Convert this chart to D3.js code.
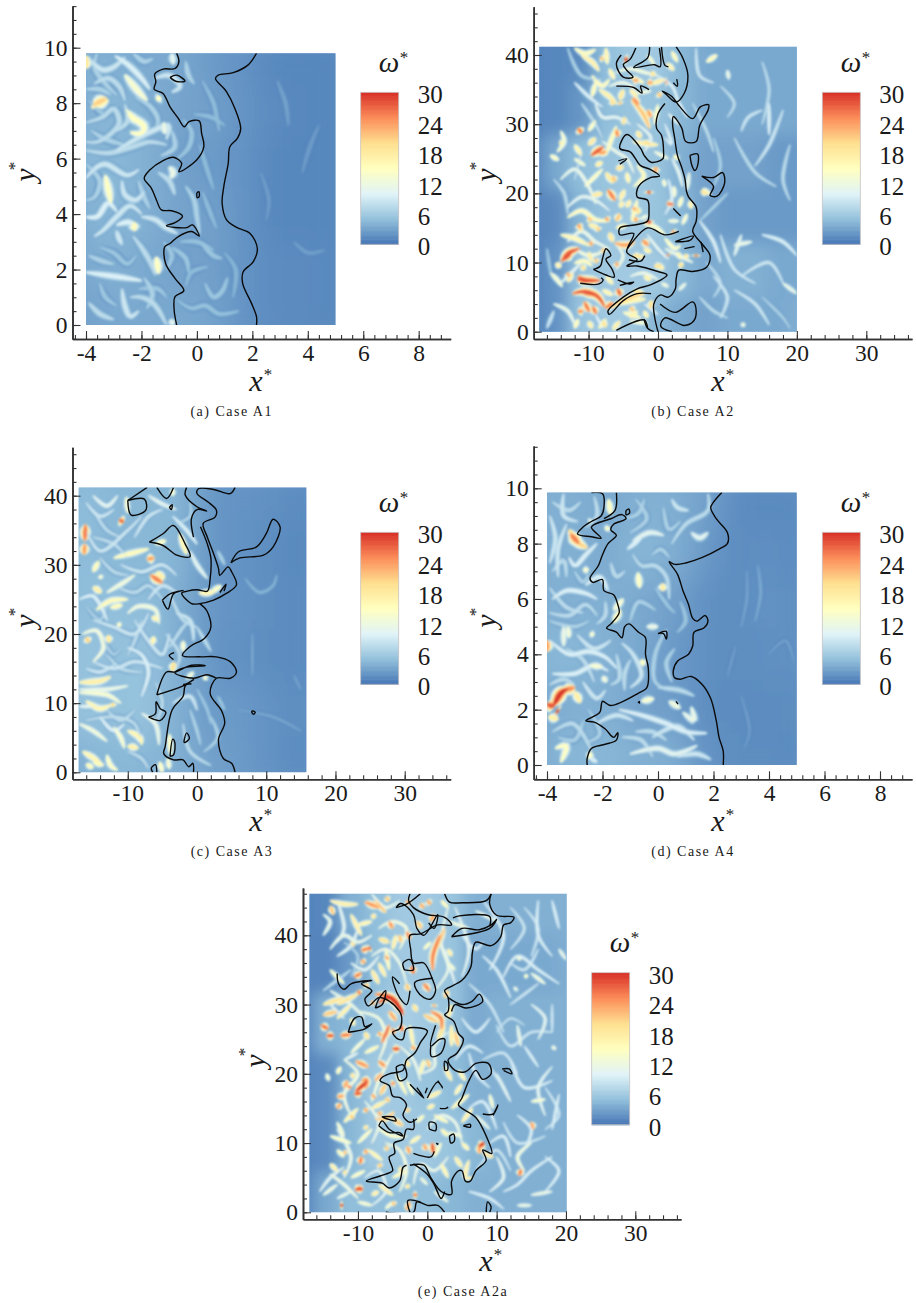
<!DOCTYPE html>
<html>
<head>
<meta charset="utf-8">
<script src="https://cdn.jsdelivr.net/npm/d3@7"></script>
<style>
  html, body { margin: 0; background: #fff; }
  text { font-family: "Liberation Serif", serif; fill: #1a1a1a; }
</style>
</head>
<body>
<svg id="fig" width="916" height="1303"></svg>
<script>
// colour bar of omega*
const omegaStops = [0, 5, 10, 15, 20, 25, 30];
const omegaColors = ["#4575b4", "#91bfdb", "#e0f3f8", "#ffffbf", "#fee090", "#fc8d59", "#d73027"];
const omegaTicks = [0, 6, 12, 18, 24, 30];

const narrowXTicks = [-4, -2, 0, 2, 4, 6, 8];
const narrowYTicks = [0, 2, 4, 6, 8, 10];
const wideXTicks = [-10, 0, 10, 20, 30];
const wideYTicks = [0, 10, 20, 30, 40];

// coarse omega* level, rows top to bottom
const fieldA = [
  [4, 4, 3.5, 3.5, 2.5, 2, 1.2, 1.2, 1.2],
  [4, 4.5, 4, 3, 3, 2, 1.5, 1.2, 1.2],
  [4.5, 4.5, 4, 3, 2.5, 2, 1.2, 1.2, 1.2],
  [4, 4.5, 4, 3, 3, 2, 1.2, 1.2, 1.2],
  [3.5, 4, 3.5, 3, 3, 2, 1.5, 1.5, 1.2],
  [3, 3.5, 3.5, 3.5, 3.2, 2, 1.5, 1.5, 1.2]
];
const fieldB = [
  [1, 1.2, 1.5, 5, 6, 6, 4.5, 3.5, 3.5, 3.5, 3.5, 3.5],
  [1, 1.2, 2.2, 5, 5.5, 5.5, 4.5, 3.5, 3.5, 3.5, 3.5, 3.5],
  [1, 3.5, 5, 5.5, 6, 5.5, 4, 3, 3, 3, 2.5, 2.5],
  [1, 1.5, 4.5, 5.5, 6, 5.5, 4.5, 3, 2.5, 2.5, 2.5, 2.5],
  [1, 2, 5.5, 6, 6, 6, 4.5, 3.5, 4, 4, 3.5, 3.5],
  [1, 2, 5.5, 6, 6, 4.5, 3.5, 3, 3.5, 3.5, 3.5, 4]
];
const fieldC = [
  [5, 4.5, 4.5, 4.5, 2.2, 2, 1.8, 1.4],
  [5, 4.5, 4.5, 4.5, 2.2, 2, 1.6, 1.2],
  [5, 5, 5, 4, 2.2, 2, 1.6, 1.4],
  [5.5, 5, 5.5, 4, 2.2, 1.8, 1.6, 1.4],
  [5.5, 5, 5.5, 4, 2.5, 2.5, 1.8, 1.6],
  [4, 4.5, 4.5, 4, 3, 2.5, 1.8, 1.4]
];
const fieldD = [
  [4, 4, 3.5, 4, 4, 3, 1.5, 1.4, 1.4],
  [4, 4, 3.5, 4.5, 4, 2.5, 1.5, 1.8, 1.4],
  [4, 4, 4, 3.5, 3, 1.8, 1.6, 2, 1.6],
  [4.5, 4.5, 4, 3.5, 2.5, 1.8, 1.6, 1.8, 1.8],
  [3.5, 4, 4, 3, 2.8, 1.6, 1.6, 1.6, 1.6],
  [4, 4.5, 4.5, 4, 4, 2, 1.6, 1.6, 1.4]
];
const fieldE = [
  [1, 1.2, 4, 5, 6, 6, 5.5, 4, 4, 4, 4, 4],
  [1, 1, 2.5, 5, 6, 6, 5.5, 3.5, 3.5, 3.5, 3.5, 4],
  [1, 4, 4.5, 5.5, 6.5, 6, 5.5, 3.5, 4, 4, 4, 4],
  [1, 1.5, 4.5, 6, 6, 5.5, 5, 4, 4, 4, 4, 4],
  [1, 1.5, 4.5, 6, 6, 6, 5.5, 4.5, 4, 4, 4, 4],
  [1, 3.5, 5, 5, 5, 5, 4.5, 4, 4, 4, 4, 4]
];

// streaks of omega*: [value, x, y, x, y, ...]
const streaksA = [
  [19, -4, 9.7, -4, 9.25],
  [9, -3.9, 9.6, -3.4, 9.2, -3, 9.3, -2.6, 9.65],
  [8, -3.7, 8.7, -3.2, 8.9, -2.8, 8.6, -2.6, 8.1],
  [7, -4, 8.5, -3.5, 8.5, -3.1, 8.3],
  [10, -2.95, 9.7, -2.5, 9.4, -2, 8.9, -1.7, 8.5],
  [14, -2.6, 9.02, -2.05, 8.35, -1.8, 8.1],
  [21, -3.74, 7.93, -3.26, 8.17],
  [17, -3.8, 7.85, -3.2, 8.1],
  [15, -2.55, 7.75, -2.25, 7.45, -1.9, 7.15, -2, 6.9, -2.4, 6.95],
  [15, -2.5, 7.6, -2.1, 7.3],
  [15, -1.46, 8.12, -1.3, 8.22],
  [8, -4, 7.3, -3.4, 7.5, -3, 7.8, -2.8, 7.3, -3.1, 6.9, -3.6, 6.6, -4, 6.6],
  [9, -2.9, 6.3, -2.2, 6.7, -1.6, 7, -1, 7.2, -1.1, 6.7],
  [12, -1.2, 7.3, -1.15, 6.9],
  [8, -4, 6.3, -3.2, 6.2, -2.4, 6.4, -1.7, 6.6, -1.1, 6.5],
  [8, -2.6, 7.95, -2.5, 7.35, -2.9, 7],
  [9, -1.5, 8.9, -1, 9, -0.6, 8.6, -0.9, 8.4],
  [11, -0.9, 9.8, -0.85, 9.4],
  [7, -0.4, 9.5, -0.3, 9, -0.1, 8.7],
  [6, -0.5, 7.4, -0.2, 7, -0.3, 6.4, -0.7, 6],
  [12, -1, 5.7, -0.85, 5.5, -0.95, 5.3],
  [8, -1.4, 5.5, -1, 5.2, -0.8, 4.7],
  [7, -0.4, 5, -0.1, 4.5, 0, 3.9, 0.1, 3.3],
  [6, 0.2, 2.9, 0.6, 2.5, 0.9, 2.4],
  [6, -0.9, 2.8, -0.4, 2.4, -0.3, 1.9],
  [5.5, -0.6, 3, 0, 3, 0.6, 2.7],
  [6, 0.3, 1.5, 0.6, 1, 0.9, 1.2, 1.1, 1.7],
  [5.5, -0.7, 0.9, -0.2, 0.6, 0.3, 0.7, 0.8, 0.4, 1.5, 0.5],
  [9, -4, 5.3, -3.6, 5.7, -3.3, 5.8, -2.5, 5.4, -2.1, 5.6],
  [15, -3.3, 5.4, -3.2, 4.9, -3.1, 4.4],
  [9, -2.7, 5.2, -2.6, 4.7, -2.2, 4.5, -1.9, 4.8],
  [10, -4, 3.9, -3.6, 3.9, -3.2, 4.4, -2.9, 4.1],
  [9, -3.7, 3.2, -3.4, 3.4, -2.9, 3.9, -2.4, 4.3, -2, 4],
  [10, -2.9, 3.6, -2.4, 3.7, -2.2, 3.4],
  [16, -2.28, 3.7, -2.25, 3.4],
  [9, -2.9, 3.4, -2.8, 3.1, -2.7, 2.9],
  [9, -2, 3.9, -1.5, 3.8, -1.1, 3.5, -0.7, 3.3],
  [8, -2.3, 3.2, -2, 2.8, -1.7, 2.3, -1.5, 1.8],
  [15, -1.46, 2.45, -1.38, 1.85],
  [10, -4, 1.9, -3.3, 1.8, -2.6, 1.7, -2, 1.6],
  [8, -3.9, 0.8, -3.5, 0.4, -3, 0.2],
  [9, -2.7, 1.3, -2.6, 0.7, -2.4, 0.3, -2.1, 0.5],
  [8, -2.4, 1, -2, 1, -1.6, 0.8, -1.3, 0.4, -1.1, 0],
  [7, -1.9, 1.7, -1.6, 1.1, -1.8, 0.6],
  [11, -0.95, 0.2, -0.85, 0],
  [3.2, 2.9, 8.8, 3.2, 8, 3.3, 7.2],
  [3, 3.5, 3, 4, 2.6, 4.6, 2.7],
  [2.8, 2.3, 5.5, 2.6, 4.5, 2.5, 3.8],
  [2.8, 3.8, 5.5, 4.1, 6.5, 4.4, 7.2],
  [7, -3.6, 9.8, -3.7, 9.3, -3.3, 8.7, -2.9, 8.3], [7, -2.3, 9.8, -1.9, 9.5, -1.6, 9.6], [6, -3.9, 8.1, -3.3, 7.6, -2.9, 7.9], [7, -2.2, 8.2, -1.7, 7.9, -1.4, 7.4, -1.5, 7],
  [7, -2.6, 6.5, -3.3, 6.7, -3.8, 7], [7, -0.9, 7, -0.8, 6.4, -1.3, 6.1], [7, -4, 5.8, -3.5, 5.2, -3.7, 4.6, -4, 4.5], [7, -2.1, 5.2, -1.9, 4.6, -1.7, 4.2],
  [6, -3.5, 2.8, -3, 2.6, -2.5, 2.2, -2.2, 2.5], [7, -3.9, 2.5, -3.4, 2.3, -3, 2.2], [6, -2.1, 1.3, -1.4, 1.3, -1.1, 1], [6, -3.5, 1.5, -3.3, 1, -2.9, 0.7], [6, -1.2, 3, -0.9, 2.5, -1.1, 2],
  [5, 0.2, 4.8, 0.5, 4, 0.7, 3.5], [5, 0.1, 6.5, 0.4, 5.5, 0.6, 4.9], [5, 0.2, 8.8, 0.6, 8, 0.8, 7], [5, -0.1, 7.6, 0.5, 7.5, 1, 7.2], [4.5, 1, 2.6, 1.4, 2, 1.3, 1], [5, -0.4, 1.4, -0.2, 1.9, 0.4, 2.1]
];

const flameA = [
  [-0.73, 9.8, -0.65, 9.5, -0.79, 9.25, -1.22, 9.23, -1.52, 9.05, -1.48, 8.77, -1.54, 8.5, -1.22, 8.35, -0.97, 7.87, -0.67, 7.45, -0.46, 7.15, -0.28, 7.33, 0.08, 7.36, 0.17, 6.91, 0.25, 6.43, -0.01, 5.95, -0.65, 5.53, -0.55, 5.83, -0.85, 6.05, -1.22, 5.93, -1.7, 5.59, -1.9, 5.29, -1.64, 4.93, -1.46, 4.51, -1.28, 4.15, -0.91, 4.12, -0.52, 3.93, -0.79, 3.69, -1.1, 3.58, -0.37, 3.51, -0.16, 3.61, 0.08, 3.21, -0.19, 3.37, -0.67, 3.19, -0.97, 2.94, -1.16, 2.82, -1.13, 2.22, -0.79, 1.68, -0.47, 1.24, -0.79, 1.02, -0.82, 0.54, -0.73, 0],
  [2.15, 9.8, 1.85, 9.38, 1.31, 9.1, 0.77, 9.01, 0.67, 8.89, 1.07, 8.41, 1.37, 7.81, 1.58, 7.09, 1.46, 6.73, 1.19, 6.43, 1.13, 5.83, 0.97, 4.99, 0.91, 4.39, 1.07, 3.79, 1.43, 3.52, 1.91, 3.31, 2.18, 2.76, 2.03, 2.28, 1.67, 1.92, 1.65, 1.5, 1.97, 0.78, 2.15, 0.3, 2.15, 0],
  [-0.97, 8.93, -0.73, 9.01, -0.43, 8.8, -0.73, 8.78, -0.97, 8.93],
  [0, 4.77, 0.07, 4.81, 0.08, 4.63, 0.01, 4.59, 0, 4.77]
];

const streaksB = [
  [28, -13.9, 10.1, -13, 11.3, -11.3, 12], [28, -13.5, 10.4, -12.5, 11.4],
  [28, -11.5, 8, -10.5, 7.5, -8.4, 7.4], [28, -11.6, 7.6, -10, 7.2],
  [28, -12.3, 5.5, -10.6, 5.8, -8.7, 5.1, -7.7, 3.6], [27, -10.8, 5.6, -9, 5.4],
  [27, -5.8, 6.2, -5.4, 5.2], [26, -10.6, 4.3, -9.9, 2.9], [26, -9.4, 3.6, -8.9, 2.6], [25, -11.5, 2.9, -10.8, 3],
  [26, -7.5, 3.4, -6.5, 4.2], [30, -4.8, 39.4, -4.4, 39.3], [22, -3.8, 33.5, -2.2, 31.6, -1.2, 29.4], [25, -3.6, 33.8, -2.8, 32.8],
  [28, -9.6, 25.5, -7.9, 26.7], [24, -8.6, 25.8, -7.4, 26], [26, -11.5, 29.4, -11, 28.7], [25, -6, 29.2, -5.8, 28.2],
  [26, -7.2, 20.5, -6.2, 19], [24, -6.2, 12.8, -4.6, 12.5, -3.4, 13], [27, 1.4, 11.1, 1.45, 11], [27, 5.5, 11.1, 5.5, 10.9],
  [29, -1.3, 20.3, -1.3, 20], [26, 1.3, 18.5, 2.2, 18.4], [30, -1.3, 16.1, -1.3, 15.6], [25, -2.2, 13.2, -1.4, 12.5], [24, 2.1, 14.6, 2.3, 14.3],
  [24, -0.3, 23.8, -0.4, 23], [24, -3.6, 36.4, -2.8, 36.3], [25, 1.1, 36.1, 1.3, 36.1], [22, -8.3, 39.6, -7.8, 39.4],
  [18, -11, 39.9, -9.5, 39, -8.5, 37.7], [16, -12, 41, -10.5, 40.2, -9, 40.8], [17, -7.5, 41, -7.3, 38.7], [18, -8.5, 35, -7, 34, -6, 33],
  [16, -9.5, 37, -8, 35.5, -7, 36.5], [19, -5, 35, -5.5, 33.5], [22, -5.5, 33.2, -5.4, 32.9], [16, -4, 36.8, -2, 36], [18, -1, 35.8, 1, 36.5],
  [17, 1.3, 38.8, 2.3, 37.8], [14, -1.5, 40, -0.5, 38.6], [16, 2, 40.5, 2.8, 39], [13, -3, 34.5, -1, 34.8], [15, 0, 32.8, -0.5, 30],
  [14, -14.5, 26, -13.5, 27.5, -14, 29], [15, -15.5, 25.5, -14.3, 24.8], [14, -12, 25, -10.5, 24], [18, -14.2, 27.3, -13.8, 27.3], [16, -6, 29.7, -7, 27, -7.5, 25.5],
  [18, -3.6, 27.5, -2, 27.2, 0, 27], [16, -3, 24, -2, 22.5, -3.5, 21], [20, -6, 23.5, -5, 23.9], [19, -7.5, 23, -6.5, 21.5], [17, -4.5, 23, -4.2, 21.5], [19, -8, 20, -9.5, 19.7],
  [15, -10.5, 21, -9, 22.5, -8, 23.5], [18, -5.5, 18, -5, 18.8], [16, -3, 19, -3.5, 17, -3.8, 16], [18, -4.8, 20.5, -5.5, 19], [20, -3, 18, -2.8, 17],
  [16, -13, 16.5, -11, 17.5, -9, 16.2, -7, 16], [18, -10, 15.5, -8.5, 15], [20, -11.3, 15, -11, 14.6], [22, -8.7, 15, -8.5, 14.6], [17, -6, 15, -4.5, 15.4], [19, -7, 14.3, -6.5, 13],
  [17, -14, 14, -12, 13.5, -10, 12.5], [18, -10, 11.5, -9.5, 10.2], [16, -12, 9.9, -10.5, 10.2, -9.5, 9.5], [18, -14.7, 9.9, -14, 9.3], [14, -15.5, 8.5, -14.5, 7.5, -13.8, 6.5],
  [18, -12.3, 8.5, -13, 7.2], [17, -7.5, 8, -6.5, 6.9], [17, -8, 6, -6.5, 5.3], [21, -6.7, 3.5, -4.8, 4.6, -2, 5.5], [17, -5.5, 4, -3.5, 4.5, -1.8, 4.7],
  [20, -3.5, 5.9, -2, 5.5], [20, -0.9, 4.5, -1.2, 3.3], [16, -5, 2.8, -2.5, 2], [16, -12, 0.5, -11.5, 1.8], [16, -8.5, 0.5, -7.5, 1.8], [18, -6.5, 0.3, -5.5, 1.5], [14, -4, 1.5, -1.5, 1.2],
  [18, 0, 9.7, 0.8, 9], [20, 3, 9.8, 3.6, 9.5], [19, 4, 11.2, 4.1, 10.6], [16, 3.3, 10.5, 2.8, 11.5], [18, -2.7, 10.7, -2.1, 11], [20, -3.6, 11, -2.5, 10.9], [15, -2, 15.5, -0.5, 15.2, 1, 14],
  [15, 1, 13.5, 2.5, 12, 3.2, 12.5], [14, 3.5, 15.5, 4.2, 17], [17, 4.6, 18.9, 4.8, 17.8], [14, 2.4, 19.5, 2.3, 21], [20, 6.2, 20.3, 7.2, 20], [14, 6.5, 20.7, 7.6, 19.8],
  [13, -2.5, 16.3, -1.5, 16.8], [16, 3, 24.9, 2.3, 25.5], [13, -0.5, 26, 1.5, 25], [12, 4.5, 23, 4.2, 20.5], [11, 1.5, 31.5, 3, 30], [10, 2.5, 34, 4.2, 31],
  [16, 7, 39, 8.5, 40], [12, 10, 37.8, 10.2, 36.5], [9, 5.5, 41, 6, 37, 8, 36], [8, 9, 35.5, 11, 33, 10, 31], [9, 12, 29, 13, 31, 15, 32], [8, 15, 39, 16, 35, 15, 30],
  [10, 16, 33, 16, 28.5], [9, 18, 32, 16, 27, 14, 24], [8, 11, 28, 14, 23, 17, 21], [8, 19, 27, 18, 22, 19, 19], [7, 8, 28, 9, 24, 8, 21], [12, 11, 12.5, 13.5, 13], [11, 11, 11, 12, 14],
  [10, 15, 14, 18, 13, 20, 11], [9, 9, 14, 11, 9, 14, 7], [9, 12, 8, 16, 10, 18, 7], [12, 18, 7, 20, 5.5], [9, 11, 6, 14, 4, 16, 1], [13, 12, 1.2, 12.5, 0.8], [9, 9, 2, 10, 5, 8, 8], [7, 15, 5, 18, 2, 19, 0.5],
  [10, 6, 16, 8, 13, 9, 10], [9, -16, 0.5, -15, 3], [6, -16, 12, -15.4, 8], [8, -15, 22, -13.5, 20, -13, 17], [8, -12, 22, -11, 26], [8, -11, 33, -9, 30, -8, 28], [7, -13, 41, -11, 37, -8, 36.5],
  [12, -14, 22, -12, 23.5, -10, 21, -9, 18.5], [11, -13, 18, -11, 19.5, -9, 19, -7, 17.5], [12, -8, 27.5, -6, 26, -4.5, 25, -3.5, 23], [11, -9, 33, -8, 31, -6, 31, -4, 30], [10, -12, 36, -10, 34, -8, 32.5],
  [13, -6, 37.5, -4, 38, -2, 37.5, 0, 37], [12, -7, 35.5, -5, 36, -3, 35], [11, -3, 30, -1, 28, -2, 26], [10, 0, 37, 2, 35.5, 3, 33], [12, -13, 13, -11, 14.5, -9, 13, -7, 12], [13, -12, 12, -10, 11, -8, 11.5],
  [11, -14, 7, -12, 9, -11, 10], [12, -15, 4, -13, 3, -12, 1], [10, -9, 2.5, -8, 0.5], [12, -6, 9, -5, 11, -6, 12.5], [12, -4, 8, -2, 8.5, 0, 7.5], [10, -2, 4, 0, 2.5], [12, 1, 12, 3, 11, 5, 10],
  [10, 1, 17, 2, 19, 1.5, 22], [11, 3.5, 21, 3, 23, 2, 25], [11, -1.5, 14, 0, 12, 1.5, 10.5], [10, 1, 28, 2, 27, 1, 30], [8, 5, 33, 7, 29, 8, 26], [7, 6, 16, 8, 18, 10, 20], [8, 6, 5, 8, 3, 10, 2], [8, 7, 10, 9, 7, 8, 5],
  [24, -9.8, 13, -9.5, 12.5], [22, -8, 12, -7.8, 11.5], [24, -13, 8.5, -12.8, 8], [20, -11, 9.5, -10.5, 9], [24, -6, 10, -5.8, 9.5], [22, -9, 10.5, -8.8, 10], [24, -7.5, 16.5, -7.2, 16], [22, -10, 16.5, -9.6, 16],
  [24, -11.5, 15.5, -11.2, 15], [22, -6, 16, -5.5, 17], [18, -4.5, 18, -4, 19], [24, -3.5, 18, -3.3, 17.5], [24, -3.3, 16.5, -3.1, 15.9], [18, -9, 24, -8, 24.5], [22, -6.5, 22.5, -6.2, 21.7], [19, -10, 27, -9, 28],
  [17, -12, 27, -11, 25.5], [15, -10, 29, -9, 30.5], [20, -5, 30, -4.8, 31], [19, -3, 29, -2.5, 28], [20, -2, 27.5, -1, 27], [24, -1.5, 32, -1, 31], [18, -4, 35, -3, 34], [20, -1, 37.5, -0.5, 37], [24, -1.5, 36, -0.8, 36],
  [22, 0, 34.5, 0.4, 34], [17, -7, 38, -6.3, 36.5], [16, -9, 36, -9.5, 34], [20, -6.7, 33.5, -6.4, 32.8], [18, -2, 12, -1, 11.5], [20, -0.5, 9.5, 0.5, 9.5], [18, -2, 8, -1, 7.5], [17, -4, 2, -3, 3], [20, -8, 1.5, -7.5, 0.7],
  [18, -10, 1.5, -9.5, 0.5], [22, -4, 3.5, -3.5, 3], [17, -2, 3, -1.5, 2], [13, 1.5, 16, 3, 16], [14, 1, 21, 0.8, 22], [15, 3, 18, 3.5, 19.5], [12, 3, 6, 4, 7], [13, 0.5, 7, 1.5, 6.5]
];

const flameB = [
  [2.6, 41.2, 3.6, 39.5, 4.3, 37.1, 3.8, 34.5, 2.6, 33.2, 1.2, 34.3, 0.6, 34.8, 2, 34, 3, 32.7, 5, 30.8, 6.1, 32.5, 7.3, 32.8, 7.2, 32, 6, 29.8, 5.5, 27.5, 4, 27.5, 3.4, 29.5, 2.2, 31.1, 2.1, 30, 2.4, 28, 2.8, 25.5, 3.4, 23.8, 3.9, 22, 4.1, 20.3, 4.4, 19.5, 5.5, 18, 5.5, 16, 5, 14.5, 6.5, 12.5, 7.5, 11, 7, 9.3, 5, 8.7, 3, 8.9, 2.6, 7.5, 2.5, 6.2, 1.5, 5, 0.3, 5.3, -0.6, 4, -0.5, 2.2, 0, 0],
  [1, 33, 0, 31.5, -0.2, 29.4, 0.5, 28.4, 0.8, 26, 0.7, 25, -1, 24.5, -2, 25.5, -2.5, 26.5, -4.5, 28.5, -5.5, 26.5, -4, 26, -2.5, 24, -1.2, 23.5, 0.2, 22.5, -1, 22.3, -2.8, 21, -3, 19.5, -1.5, 19, -1.3, 17.5, -1.5, 16, -3, 15.5, -5.5, 15, -5.5, 14, -3.5, 14.2, -4.5, 11.5, -3, 10.4, -4.5, 9.5, -3, 9.5, 0, 8.7, 1.3, 8.2, -1, 6.8, -3, 6.2, -5, 5, -7.2, 3, -7, 2.5, -5, 4.5, -3, 5.5, -1, 5.5],
  [-5.3, 40, -6, 38.7, -5, 36.8, -3.6, 36.8, -4.5, 37.8, -5, 38.6, -4, 39.4, -3.2, 41],
  [-1.2, 41.2, -1.5, 39.6, -3.5, 38.2, -0.5, 38.6, 0.3, 38.3, 0.2, 41],
  [0.5, 41.2, 1, 38.5, 1.5, 38.3],
  [-11.2, 7, -8.5, 6.9, -7.9, 7.5, -8.2, 7.8],
  [-5.8, 7.5, -4, 6.9, -3.5, 7.2, -5.5, 6.7],
  [-9.3, 9, -7.5, 8.2, -6.3, 7.9, -6.6, 9, -7.5, 10.5, -6.8, 11, -7.5, 12, -8, 10.5, -8.3, 9.5, -9.3, 9],
  [-6, 0.2, -2, 1.7, -1.5, 0.5],
  [0.3, 4, 2.5, 2.8, 5, 4.3, 5.5, 3, 5.1, 1.5, 3.8, 0.9, 1, 2, 0.4, 0.8, 2, 0],
  [-2, 1.8, -1.5, 0.5, -0.6, 0],
  [6.3, 22.5, 8, 22.3, 9.3, 23, 9.6, 21.5, 8.5, 19.6, 7.5, 19.7, 8, 21, 6.3, 22.5],
  [4.6, 25.5, 5.7, 25.7, 5.7, 24, 5.3, 23.3, 4.9, 24, 4.6, 25.5],
  [2.5, 13, 5.1, 13.8, 4.6, 13.2, 2.5, 13],
  [3.8, 12, 5.2, 12.3, 3.8, 12],
  [6.2, 13, 6.5, 11.5],
  [2.2, 17.8, 3.2, 16.8, 2.5, 17.5],
  [-5.7, 24.7, -4.5, 25, -5.5, 24.2],
  [-4.2, 10.4, -2.5, 10.2, -1.9, 11],
  [-4.4, 12, -1.5, 15, 1, 14, 3, 14.5],
  [2.2, 36, 2.8, 35.5, 2.7, 36.5],
  [-6, 35.5, -3.5, 35.3, -2.3, 34.5, -2.5, 35.5, -1.3, 35]
];

const streaksC = [
  [26, -16.1, 35.8, -16.2, 33.5], [24, -16.2, 33, -16.3, 31.5], [27, -11.2, 36.5, -10.6, 36.2], [14, -10.2, 39.8, -10, 37.5], [16, -12, 31, -9, 31.8, -7, 32.3], [24, -7.2, 30.8, -6.2, 31],
  [26, -6.7, 28.5, -5, 27.4], [18, -5.8, 29, -4.7, 28], [16, -15, 29, -14.2, 30.5], [14, -14, 28.5, -13.8, 28], [18, -15, 26.8, -13.8, 26], [13, -13, 26, -10.5, 27.5, -9, 28.5],
  [16, -14.5, 23.5, -12.5, 24.8, -10, 25], [16, -12.5, 23.8, -10.8, 24.2], [13, -10, 23, -8.5, 24, -6, 23.5, -5.5, 21.5], [17, -6.5, 22.5, -5.6, 22], [15, -11.5, 21.5, -11, 21.2],
  [19, -12.8, 19.8, -12.7, 18.8], [21, -16, 19.5, -15.6, 18.8], [13, -16.5, 20, -14.5, 20.5, -13.5, 18, -15, 16], [17, -6.2, 19.6, -6.5, 18.5], [10, -10, 18, -8, 17, -7, 14.5, -8, 11],
  [18, -17, 13, -14, 13.2, -12.5, 13.8], [12, -17, 12, -13, 12, -10, 12.5], [14, -17, 11.5, -13, 11.2, -11, 10], [17, -16, 10.3, -14, 9.2, -12.5, 9.7], [20, -12.2, 10, -12.1, 9.5], [11, -17, 9.5, -14, 9.6],
  [17, -16.5, 3, -14, 1.5], [16, -15, 1.5, -13.5, 1], [18, -8.5, 3.5, -10, 3.8], [17, -10, 6, -8.2, 5, -8, 4], [14, -12, 6.5, -11, 5, -10.5, 3.5], [15, -13, 2.5, -12.5, 1, -11.5, 0.3], [12, -8, 8.5, -6, 7, -5.5, 4],
  [15, -5.4, 1.5, -5, 0], [14, -4.2, 2, -4, 0.5], [13, -17, 7, -15, 6, -13, 4.5], [16, -16, 1.2, -15, 0.6], [10, -14, 8, -12, 6, -10.5, 7], [10, -17, 25, -15, 25.5, -13, 22],
  [9, -16, 39, -14, 37, -12, 38], [11, -15, 40, -13, 38.5, -11.5, 40], [9, -16, 35, -14, 32, -10, 35, -8, 37], [9, -9, 34, -7, 37, -5, 38], [11, -7, 40, -5, 38.8, -3, 38], [14, -3.5, 41, -3.5, 40],
  [15, -6, 33, -4.5, 33.5], [9, -11, 30, -8, 29, -5, 30, -3, 28.5], [10, -3.5, 37, -1.5, 35, 0, 33], [11, -1, 32, 0, 30, 1.5, 28], [17, -2.5, 34.5, -1.5, 31.5], [20, -3.3, 15.9, -3.6, 14.6],
  [17, 0.3, 25.9, 2.5, 26], [15, 2, 26, 3.5, 27], [14, -2, 17.5, -2, 19], [13, -1.5, 13.5, -0.5, 14.5], [14, 1, 13.4, 1.4, 13.9], [9, -3.5, 10, -1, 11, 0, 9], [8, -2, 7, -1, 3, 2, 1],
  [7, 2, 8, 3, 5, 1, 3], [8, 0, 21, 2, 17.5], [7, 3, 32, 4, 30], [6, 3, 11, 4, 9], [4.5, 7, 28, 9, 26, 11, 27, 11.5, 28.5], [3.5, 6, 9, 11, 8, 15, 6], [3.5, 8, 20, 8, 14], [3.2, 14, 14, 15, 12],
  [15, -4, 5.5, -3.8, 2.5], [14, -8.8, 5.5, -8, 4.3],
  [9, -15, 22, -12, 21, -9, 20, -7, 23], [9, -9, 22, -7, 19, -5, 17, -4, 20], [9, -15, 16, -12, 15, -9, 16, -5, 15], [8, -16, 7.5, -12, 8, -9, 7, -8, 4], [8, -4, 26, -2, 22, 0, 21], [8, -4.5, 20, -2.5, 17, -3, 15],
  [8, -15, 34, -12, 33, -10, 31], [8, -12, 27, -9, 26, -7, 27, -5, 25],
  [8, -15, 38, -13, 35, -11, 34], [8, -14, 31, -12, 29, -10, 28.5], [9, -7, 25, -5, 27, -3, 26], [8, -8, 22, -9, 19, -10, 17], [8, -13, 17, -11, 15, -8, 14.5], [9, -16, 15, -14, 14.5, -12, 15.5], [8, -6, 13, -5, 10, -6, 7],
  [8, -13, 9, -11, 7.5, -9, 9], [8, -10, 3, -8, 2, -7, 0.5], [7, -1, 9, 0, 6, 0.5, 4], [7, -3, 36, -1, 37, -1, 39], [7, -14, 20, -12, 17, -11, 18], [9, -3, 23, -1, 22, -0.5, 19], [8, -4, 18, -2, 21, -1, 22], [7, -16, 24, -14, 22, -13, 24], [6, 0, 12, 1.5, 9, 2, 7]
];

const flameC = [
  [5.5, 41.2, 4.8, 40.3, 2.4, 40.9, 0.2, 41, 0, 40.3, 1.6, 39.1, 2.8, 37.9, 2.6, 36.9, 0.9, 36, 1.5, 34, 2.4, 31.6, 3.1, 29.5, 3.3, 28.5, 4.5, 29.7, 5, 29, 5.7, 27.1, 4.3, 25.9, 2.4, 24.9, 0.4, 24.4, -0.8, 24.4, -2.2, 25.9, -1.4, 26.2, 0, 26.4, 1.5, 26.2, 1.9, 28, 2, 31, 1.5, 33, 0.5, 35.5],
  [0.4, 24.4, 1.4, 23.4, 2, 21, 1.1, 19.4, -1, 18.2, -2.1, 16.9, 0.4, 16.7, 2.8, 16.7, 4.8, 16, 5.7, 14.5, 4.8, 13.6, 2.8, 13.6, 1.9, 11.4, 3.6, 8.8, 4, 7.1, 3.1, 4.7, 3.8, 2, 5, 1.3, 5.5, 0],
  [-5.8, 11.2, -4.4, 14.5, -3.2, 14.5, -0.8, 15.5, 1.2, 15.4, -1.5, 15.2, -3.2, 14.4, -0.5, 13.6, 1.4, 14.1, 2.8, 13.6],
  [-5.8, 11.2, -2, 12.5, -0.5, 13.4, -1.7, 12.5, -2, 11, -3.6, 9, -4.6, 3.7, -4.8, 2.7, -3.4, 1.8, -2, 1.8, -1.2, 0.8, -0.6, 1.3, -0.5, 0],
  [-10, 39.3, -7.6, 39.5, -7.4, 37.9, -9.5, 37.2, -10, 39.3],
  [-7.2, 41.2, -10, 39.3],
  [-5.8, 41.2, -4.4, 39.6, -3.4, 41.2],
  [-1.5, 41.2, -1.7, 40.1, 0, 38.4, 1.4, 37.8, 0, 38, -0.8, 36.7, -0.5, 34],
  [4.9, 30.3, 6, 31.9, 8.6, 32.6, 10, 34.5, 11, 36.6, 12, 35.5, 11, 32.6, 9.6, 31.4, 6.2, 31, 4.9, 30.3],
  [-6.9, 33.3, -4.9, 34.5, -3.4, 35.7, -1.7, 33, -1, 31.2, -2.9, 31.4, -4.9, 32.8, -6.9, 33.3],
  [-7, 8, -6, 8.5, -5.9, 10.2, -5.3, 9.2, -4.5, 8.7, -5.3, 7.5, -7, 8],
  [8, 8.9, 8.4, 8.7, 8.2, 8.4, 7.9, 8.7, 8, 8.9],
  [-1.9, 4.4, -1.5, 5.7, -1.1, 4.9, -1.8, 4.3, -1.9, 4.4],
  [-3.9, 2.3, -3.5, 4.8, -3.2, 4.3, -3.4, 2.5, -3.9, 2.3],
  [-5, 24.9, -3.9, 25.8, -2, 26.3, -3.4, 25.8, -4.2, 23.6, -5, 24.9],
  [-4, 38.3, -3.6, 38.7, -3.7, 38, -4, 38.3],
  [-6.4, 0, -6.6, 0.6, -6, 1.1, -5.8, 0],
  [-3.4, 16.3, -4, 16.9, -3.3, 17.3],
  [-2, 12.7, -0.8, 12.8],
  [3.3, 26, 4.2, 27.2, 3.9, 26.2]
];

const streaksD = [
  [21, -3.2, 8.5, -2.9, 8.05, -2.55, 7.85], [26, -3.15, 8.35, -2.85, 8],
  [30, -3.75, 2.15, -3.5, 2.6, -3.25, 2.75], [25, -3.4, 2.7, -3, 2.8], [30, -3.65, 1.95, -3.6, 1.92], [28, -4, 2.2, -3.75, 2.1],
  [18, -3.95, 1.75, -3.6, 1.65], [18, -3, 2.65, -2.8, 2.25], [24, -4, 4.5, -4, 4.1],
  [15, -1.78, 9.6, -1.7, 9.05], [12, -2.5, 8.8, -2.4, 8.85], [14, -1.9, 8.5, -1.75, 8.6],
  [14, -1.6, 5.6, -1.25, 6], [16, -1.6, 5.15, -1.35, 5.6], [15, -0.72, 6.95, -0.66, 6.4], [18, 0.17, 6.55, 0.18, 6.3],
  [12, -0.4, 5.0, 0, 5], [14, -2.45, 4.75, -2.3, 4.7], [13, -3.25, 5, -3.2, 4.6], [12, -3.4, 5, -3.4, 4.3], [14, -0.6, 2.3, -0.15, 2.4],
  [13, 0.4, 2.3, 0.8, 2.05], [15, -0.6, 3.8, -0.5, 3.6], [14, -2, 3.55, -2.45, 3.6], [13, -2, 3.2, -1.85, 3], [14, -2.5, 7.05, -2.7, 7.05],
  [10, -3.2, 7.5, -3, 7.2, -2.6, 7.6, -2.2, 8],
  [10, -3.8, 6, -3.3, 6.3, -2.6, 6.2, -2.2, 6],  [8, -3.9, 5.5, -3.2, 5.4, -2.6, 5.8, -2.2, 5.4], [9, -3.6, 6.8, -3.6, 7.8, -3.3, 8.7],
  [9, -3.4, 9.8, -3.4, 9, -2.9, 8.8], [9, -3.9, 9, -3.7, 8.2, -3.9, 7.3], [10, -2.6, 6.5, -2.1, 6.8, -1.8, 6.3], [7, -3.9, 5.2, -3, 5, -2.5, 5.2],
  [10, -3.9, 4.5, -3.2, 4, -2.5, 4.1, -1.9, 3.9, -1.5, 3.5], [10, -3.8, 3.3, -3, 3.3, -2.3, 3.6, -1.8, 3.4], [9, -2.9, 4.7, -2.3, 4.2, -1.7, 4.5], [9, -1.3, 4.4, -0.9, 4, -0.6, 3.2, -1, 2.8],
  [8, -1.7, 2.9, -1.4, 3.1, -1.5, 4], [9, -2.7, 3, -2.2, 2.4, -1.9, 2.7], [8, -3.8, 1.2, -3.1, 1.5, -2.7, 1.1, -2.4, 0.5], [9, -2.2, 1.5, -1.5, 1.8, -0.9, 1.6],
  [10, -1.4, 2, -0.6, 1.8, 0.3, 1.5, 1, 1.2, 1.75, 1.15], [11, -1, 0.4, 0, 0.6, 0.6, 0.4, 1.4, 0.7], [10, -2.5, 0.3, -2.2, 0.1], [15, -3.7, 0.6, -3.3, 0.7, -3.5, 0.1], [15, -2.5, 0.25, -2.4, 0.45],
  [12, 1.2, 2.1, 1.3, 1.6, 0.9, 1.9], [9, -0.2, 1, 0.7, 1.4, 1.3, 0.9],  [9, 0.7, 0.3, 1.4, 0.4, 1.9, 0.2], [8, 0, 2.8, 0.8, 2.7, 1.3, 2.5],
  [11, -0.9, 8.1, -0.3, 8.4, 0.2, 8.3], [10, -1.1, 7.8, -0.6, 8.2], [11, 1.2, 8.4, 1.5, 8.2, 1.8, 8.4], [9, 0.5, 9.6, 0.7, 9.3, 1.1, 9.2], [8, 0.5, 8, 1, 8.7, 1.8, 9.2, 1.8, 9.8], [7, -0.8, 9.6, -0.4, 8.9, -1, 8.4],
  [8, -0.9, 7.6, -0.6, 7.2, -0.1, 7.2, 0.3, 6.8, 0.4, 6], [8, -1.7, 7.3, -1.5, 6.8, -1.2, 7], [7, -1, 5.2, -0.7, 5.9, -0.1, 5.6], [7, 0.3, 4.9, -0.1, 4, -0.1, 3, 0.4, 2.7], [7, 0.5, 3, 0.3, 3.7, 0.6, 4.2], [6, 0.8, 5.9, 1, 5.2, 0.7, 4.8],
  [3.6, 3.6, 7.2, 3.7, 6.2, 3.5, 5.2], [3.2, 3.2, 7, 3.2, 6, 3, 5], [3, 4, 4, 4.6, 4.5, 4.9, 3.7], [2.8, 3, 2.5, 3.3, 1.2, 3.1, 0.6], [2.8, 2.5, 3.2, 2.8, 4.3],
  [8, -3.8, 9.5, -3.2, 9.2, -2.8, 9.5], [8, -2.6, 8.6, -2.2, 9, -2.3, 9.7], [8, -3.8, 7, -3.4, 7.4, -3.3, 6.8], [7, -3, 7, -2.7, 6.6, -2.5, 6.9], [8, -3.9, 6.4, -3.3, 5.7, -2.7, 5.5], [8, -2.2, 5.1, -1.9, 5.4, -1.9, 5.9],
  [8, -3.3, 4.2, -2.7, 3.8, -2.3, 3], [8, -3.9, 2.9, -3.4, 3.1, -3, 2.9], [7, -3.6, 1, -3, 0.9, -2.7, 1.6], [7, -2.5, 2, -2.1, 1.1, -2.6, 0.8], [8, -1.3, 1, -0.6, 0.9, -0.2, 0.3], [8, -0.8, 1.2, -0.2, 1.2, 0.3, 0.9],
  [8, -1, 3.8, -1.2, 3.3, -1.2, 2.7], [7, -0.2, 7.6, 0.1, 7.8, 0.4, 7.5], [7, 0.8, 8.8, 0.4, 8.5, 0.2, 9.3], [7, -1.2, 8.9, -0.7, 9.1, -0.5, 9.6], [6, -0.1, 6.4, 0.4, 5.7, 0.6, 5.5]
];

const flameD = [
  [2.3, 9.85, 2, 9.5, 1.9, 9.3, 2.1, 8.9, 2.5, 8.4, 2.5, 8, 2.2, 7.8, 1.6, 7.5, 1, 7.3, 0.6, 7.25, 0.4, 7.35, 0.7, 6.9, 0.9, 6.3, 1.1, 5.8, 1.25, 5.3, 1.4, 5.2, 1.7, 5.4, 1.8, 5.2, 1.65, 4.95, 1.3, 4.8, 1.25, 4.3, 1.1, 4, 0.7, 3.75, 0.55, 3.4, 0.6, 3.15, 0.8, 3.1, 1.2, 3.2, 1.6, 2.9, 1.9, 2.4, 2.1, 1.6, 2.2, 1, 2.35, 0.5, 2.35, 0],
  [-2.4, 9.85, -2, 9.8, -1.95, 9.3, -2.05, 9, -2.4, 8.8, -2.7, 8.6, -2.9, 8.35, -2.4, 8.25, -2.05, 8.2, -2.4, 8.6, -1.7, 8.9, -1.3, 9.05, -1.15, 8.9, -1.6, 8.7, -1.7, 8.5, -1.5, 8.3, -1.8, 8, -2, 7.6, -2.15, 7.2, -2.45, 6.75, -2.35, 6.6, -2, 6.7, -1.95, 6.3, -1.6, 6.15, -1.45, 5.8, -1.4, 5.5, -1.7, 5.1, -1.85, 4.95, -1.5, 4.8, -1.3, 4.6, -1.2, 5, -1.05, 5.1, -0.7, 4.8, -0.45, 4.6, -0.45, 4, -0.35, 3.5, -0.4, 2.8, -0.7, 2.6, -1.7, 2.15, -2, 2.3, -2.1, 1.9, -2.6, 1.6, -2.3, 1.55, -1.9, 1.3, -1.6, 1, -1.45, 1.17, -1.5, 0.9, -1.9, 0.75, -2.4, 0.6, -2.55, 0.25, -2.55, 0],
  [-1.95, 8.9, -1.55, 9.2, -1.5, 9.85],
  [-1.15, 9.2, -1.05, 9.25, -1.03, 9.1, -1.15, 9.05, -1.15, 9.2],
  [0, 4.75, 0.3, 4.83, 0.3, 4.55, 0.2, 4.75, 0, 4.75],
  [-0.72, 2.25, -0.67, 2.3, -0.67, 2.22],
  [0.65, 2.3, 0.72, 2.2]
];

const streaksE = [
  [28, -10, 3.4, -9.3, 3.3], [29, -12.5, 1, -12.2, 1], [26, -9.5, 37.8, -8.5, 38.1], [25, -9.5, 19, -8.7, 19.2, -8.9, 17.9], [30, -10.3, 17.5, -9, 18.6, -8.7, 19], [28, -10.5, 17.1, -9.5, 17.2],
  [26, -11.5, 18.2, -11, 18], [24, -13, 16.7, -12, 16.8], [24, -13, 15, -12.5, 15.7], [24, -12, 18, -11.5, 19], [25, -10.3, 21.8, -8.5, 21], [25, -7, 21.8, -6, 21], [24, -7.5, 19, -6.5, 20], [22, -6, 18.5, -6.8, 17],
  [27, -15.3, 27, -14.3, 26.5], [28, -14.5, 25.5, -13.5, 25.5], [26, -12.5, 25.5, -11, 25.7], [22, -15, 28.5, -13, 29], [20, -15, 30, -12, 31], [18, -13, 28, -11, 30], [20, -13, 30, -10, 31.5],
  [26, -10.5, 34, -9.5, 34.5], [24, -9.5, 36.4, -9, 36], [27, -7.5, 31.5, -5, 31, -4, 30], [30, -7, 30.2, -5.5, 31, -3.5, 29], [30, -6, 31.5, -4.5, 30.2, -3.5, 28.5], [28, -3.8, 27, -3.6, 26.2], [27, -6.5, 24.5, -5.5, 27],
  [26, -5, 26.5, -4.8, 25.8], [28, -5, 23.6, -4, 23.6], [24, -4.5, 27.7, -5.5, 29], [26, 0.5, 29, 2, 28, 2, 26.5], [22, -0.5, 28.5, 1.5, 27.5], [24, 1, 30, 1, 29.7], [26, 1.8, 40, 0.8, 37, 0.8, 35], [22, 2.5, 41, 1.3, 38],
  [28, -2.2, 35.5, -2, 34.5], [25, -5.5, 42, -5, 41], [25, -9, 44.8, -7, 44], [22, -7.5, 45, -6, 43.3], [22, -13.5, 43, -14, 44.2], [18, -14, 45, -12, 44.5, -10, 44.5], [28, -8.5, 38, -8.2, 38.2], [26, 0.3, 32, -0.5, 33],
  [26, -3, 40.5, -2.5, 39.5], [22, -1.5, 42, -0.8, 41], [24, 1, 43, 0.5, 42], [18, -5, 38, -4.5, 40], [20, -7, 39.5, -5.5, 39], [17, -10, 41.5, -8, 42], [18, -11, 43, -9.5, 40], [16, -6, 38, -5.5, 35], [18, -7, 36, -6, 34],
  [19, -8, 35, -7, 33], [15, -14, 35, -12, 33], [22, -4.8, 14.5, -6, 13.5, -7.5, 13.5], [22, -3.5, 12.5, -5, 13.5], [25, -5.2, 18.5, -4.7, 18.7], [24, -2.5, 8.5, -2.9, 9.5], [28, 0.7, 10, 0.9, 8.5], [24, -0.5, 9.8, -0.1, 9],
  [26, -9.7, 7, -9.5, 8], [22, -11.8, 8.4, -11.9, 8.9], [28, -10.4, 3.2, -9.5, 3.6], [26, -2, 2.5, -1.5, 2.5], [24, -3, 0.3, -2.5, 1.5], [30, 7.5, 9.5, 8.2, 10], [24, 7.5, 9.8, 7.5, 8.5], [26, 13.5, 6.2, 13.3, 5.3], [24, 15, 13, 15.3, 12],
  [20, 8, 8.5, 9.5, 8], [18, 6, 7.5, 5.5, 5, 6.5, 5], [17, 4.5, 20.5, 5.5, 19], [18, 2.5, 21, 3.5, 19], [17, 3.5, 15, 6, 17], [18, 0, 16.5, 2, 17.5], [20, 1.5, 25, 2.5, 27], [18, 3.5, 24, 3.5, 27], [22, 4, 26, 4.5, 24],
  [17, -1, 20, -0.5, 22], [17, -2, 24, -2.5, 27], [16, -1.5, 13, -0.5, 14], [16, 1, 14, 3, 13], [17, -2.5, 10, -1, 11], [15, 2, 10, 1, 8], [14, 3, 11.5, 5, 11], [15, -7, 12, -5, 11, -3, 11], [17, -8.5, 9, -6.5, 7.5],
  [15, -10, 10, -8, 12], [15, -14, 11, -11, 10], [17, -12, 13, -10, 15], [18, -8, 15, -6, 16], [14, -13, 13, -12, 11], [16, -12.5, 21, -13, 20], [16, -4.5, 20, -3, 17], [15, -2, 17, -3, 19], [16, -9, 23, -7, 24], [14, -11, 23, -9, 25],
  [16, -5, 5, -3, 6], [18, -7, 4, -5, 2.5], [15, -11, 5, -9, 6], [13, -15, 2.5, -13, 4], [14, -10, 1.5, -8, 1], [14, -6, 0.5, -5, 1.5], [13, -1, 5, 0, 4], [13, 1, 3, 3, 1.5], [14, -14.5, 20, -14.2, 19],
  [13, -14, 5.5, -12, 4, -10, 2], [12, -13, 2, -11, 3], [11, -15.5, 3, -14, 5, -12, 6.5], [12, -15, 40, -14, 42, -15, 43], [11, -13, 37, -11, 38.5, -10, 41], [11, -14, 30, -12, 28], [11, -12, 22, -10, 23],
  [14, 3, 36, 4, 35], [13, 3, 42, 6, 41], [11, 2.5, 38, 4, 33], [10, 5, 40, 7, 38, 8, 39], [12, 7, 43.5, 10, 42], [14, 13, 36.8, 13.5, 36.5], [15, 14, 34.2, 14.5, 34], [13, 15, 34.5, 17, 33], [12, 12.5, 32.5, 13, 32], [11, 15, 30, 17, 28, 16, 25],
  [12, 13, 27, 13.5, 24], [13, 18, 24, 18.5, 23.5], [11, 18, 21, 16, 18, 17, 14], [14, 15, 16, 17, 16.3], [14, 9, 17, 9.5, 15], [11, 10, 20, 12, 16], [12, 7, 14, 9, 12], [13, 15, 10, 13, 8, 14, 6], [10, 17, 8, 19, 6, 17, 3],
  [12, 15, 2.5, 18, 3], [11, 10, 8, 11, 5, 9, 3], [10, 6, 3, 9, 2, 11, 0.5], [12, 13, 1, 15, 1], [9, 11, 13, 13, 10, 17, 11], [10, 19, 17, 18, 12], [12, 19, 38, 20, 36.5], [10, 16, 45, 16, 40, 18, 37], [10, 8, 45, 11, 40, 9, 35],
  [9, 12, 44, 14, 41, 12, 38], [10, 18, 45, 19, 41], [9, 6, 33, 9, 30, 11, 26], [9, 12, 30, 16, 33], [10, 14, 24, 16, 21], [9, 8, 22, 11, 23, 13, 20], [8, 10, 26, 12, 28, 14, 27], [10, 6, 23, 7, 20, 9, 18],
  [9, 16, 38, 14, 35, 12, 36], [9, 18, 30, 18, 26], [8, -15, 32, -11, 35], [7, -12, 39, -10, 37, -11, 34],
  [12, -14, 38, -12, 40, -10, 39, -8, 40], [11, -13, 45, -12, 41, -13, 39], [12, -8, 46, -6, 44, -4, 45], [13, -7, 41, -5, 42, -3, 41, -4, 38], [12, -8, 37, -6, 38, -4, 36, -3, 33], [11, -11, 36, -9, 35, -7, 37],
  [12, -14, 32, -11, 30, -9, 28], [13, -10, 29, -7, 28, -6, 25, -7, 22], [12, -4, 24, -2, 22, -1, 19], [13, -5, 23, -7, 19, -8, 16], [13, -12, 22, -10, 20, -12, 17, -11, 14], [12, -9, 16, -7, 13, -8, 10],
  [12, -13, 12, -11, 8, -12, 5], [13, -6, 10, -4, 9, -3, 6, -4, 3], [11, -9, 5, -7, 6, -6, 3, -8, 1], [12, -2, 4, -1, 7, 1, 6, 3, 8], [12, 0, 12, 2, 14, 4, 13, 5, 10], [12, -1, 20, 1, 21, 1, 24, 3, 26],
  [12, 1, 32, 3, 35, 2, 39, 3, 44], [11, 4, 44, 6, 38, 5, 34], [10, 5, 28, 7, 26, 9, 28], [10, 4, 22, 6, 24, 8, 23], [10, 6, 15, 8, 16, 10, 12], [9, 7, 6, 10, 9, 12, 6], [10, 11, 3, 13, 4, 15, 6, 18, 8],
  [10, 12, 22, 14, 18, 18, 19], [10, 11, 34, 13, 37, 16, 35, 19, 33], [9, 14, 44, 16, 41, 15, 37], [10, 8, 37, 10, 35, 12, 31], [9, 10, 27, 12, 24, 15, 26, 18, 26], [9, 17, 18, 19, 14, 17, 12], [10, 13, 14, 15, 12, 14, 9], [9, 11, 18, 9, 21], [10, 9, 10, 11, 11, 12, 8],
  [24, -6, 37, -5.6, 36.5], [22, -4, 40, -3.8, 39], [20, -8, 43, -7.5, 42.5], [22, -6, 45.5, -5.5, 45], [24, -3, 45, -2.5, 44.5], [24, -1, 44.5, -0.5, 44], [24, 0, 45, 0.5, 44.5], [20, -11, 39, -10.5, 38.5], [22, -9, 33, -8.5, 32.5],
  [26, -10, 32, -9.7, 31.5], [24, -8, 30.5, -7.7, 30], [18, -11, 28, -10.5, 27], [20, -2, 30, -1.5, 29], [22, -3, 33, -2.7, 32], [24, -7, 26, -6.7, 25.5], [20, -9, 26, -8.5, 25], [24, -2.2, 24, -1.8, 23.5], [22, 0, 22, 0.3, 21],
  [20, -3, 22, -2.7, 21], [20, -11, 20, -10.5, 19.5], [24, -8, 17, -7.5, 16.5], [24, -9, 15, -8.7, 14.5], [22, -11, 14, -10.7, 13.5], [24, -7, 14.5, -6.7, 14], [22, -3, 15, -2.7, 14.5], [22, -6, 16.5, -5.5, 16], [20, -9, 12.5, -8.7, 12],
  [22, -6, 9.5, -5.7, 9], [24, -9, 9, -8.7, 8.5], [20, -4, 6.5, -3.7, 6], [22, -7, 7, -6.7, 6.5], [20, -12, 6, -11.7, 5.5], [18, -14, 7, -13, 6], [16, -13, 9, -12, 8], [20, -3, 4, -2.7, 3.5], [22, -5, 1.5, -4.7, 1], [18, -8, 2.5, -7, 3],
  [17, 2, 7, 3, 5], [18, 4, 8, 5, 6.5], [17, 5, 10, 6, 9], [17, 2, 12, 3, 11], [18, 0, 15, 1, 15.5], [18, 5, 13, 6.5, 15], [17, 4, 17, 5, 18.5], [19, 3, 28, 3.5, 30], [22, 2.5, 31, 3, 32], [18, 3, 38, 3.5, 37], [16, 2, 45, 3, 44], [15, -0.5, 38, 0.5, 39]
];

const flameE = [
  [2.5, 46, 3.2, 44.8, 5, 44.7, 8.5, 45, 9.2, 46],
  [9.2, 46, 9, 44.5, 10, 42.9, 12.5, 42.6, 12, 41.8, 11, 41.5, 10.6, 39.8, 9.2, 38.5, 7, 39, 6.5, 37.5, 6.3, 35.5, 5, 33.5, 3, 32.4, 2.5, 32, 3, 31, 3, 29, 2.5, 28.5, 3.8, 27.6, 4.5, 25.8, 5.2, 25, 4.3, 23, 3, 22, 4, 20.5, 5.5, 20.3, 7, 21.5, 8.8, 21.5, 9.2, 20, 8, 19.2, 7, 20.5, 6, 19, 5, 16.5, 4.5, 15.5, 7, 13.7, 8.5, 11, 9.3, 8.5, 8, 9, 8.5, 7.5, 7, 6, 6.2, 4.5, 5.5, 4.5, 5, 6, 4.5, 6, 3.5, 4.5, 3.5, 2.6, 2, 3, 0.5, 5, -0.5, 6.8, -2.5, 6.8],
  [3.5, 39.8, 5, 41, 7.5, 40.8, 9.2, 41.5, 10, 42.3, 9, 41, 3.5, 39.8],
  [3.7, 42.5, 4.6, 42.8, 9, 42.7, 9, 41.3],
  [-2.5, 46, -2.7, 45, -2, 44, 0, 43, 2.5, 42.6, 3.5, 41.5, 1.5, 41.5, -1, 40.2, -2.5, 40, -2.4, 38, -2, 36, -0.5, 36, 0.8, 33.5, 1.2, 32, 0.5, 30.8, -0.5, 31, -1.5, 32, -1.8, 33.2, 0.8, 33.8],
  [-4.5, 44, -3.8, 44.6, -2, 43, -1.5, 41, -0.5, 40, 1.5, 43, 1, 41, 0.2, 41.8],
  [-3.3, 35, -3.5, 36, -2.5, 36.5, -2, 35, -3.3, 35],
  [-13, 34.5, -12.8, 33, -12, 32.2, -11, 33, -8, 33.5, -9.5, 33, -8, 32, -9, 30.8, -8.5, 29.8, -7, 31, -5.5, 30.5, -4, 29, -3.7, 28.2, -4, 26.5, -5, 26, -4.2, 25, -3.5, 25, -3, 26.5, 0, 26.2, -1, 24.5, -1.8, 23, -3, 22, -3.5, 20.5, -5.5, 20, -6.5, 19.5, -6.8, 19, -5.5, 18.3, -5, 16.8, -3.8, 16.5, -3, 15.5, -3.5, 14, -2.5, 13, -1.5, 13.5],
  [-4, 33, -5, 34, -4.8, 32.8, -4, 31, -3, 30, -2.5, 32],
  [-7.5, 29.5, -7, 30.8, -6, 32, -6.5, 30, -7.5, 29.5],
  [-11.4, 26, -10.5, 28, -9.5, 28.2, -9, 26.8, -8, 27.2, -9, 26.5, -11.4, 26],
  [1.2, 27, 0.5, 24, 1.8, 25, 2.5, 25, 2, 23, 0.6, 22.5, 0.5, 24],
  [-4.5, 21, -3.5, 21.3, -3, 19.5, -4, 19, -4.5, 21],
  [2.5, 20.5, 2.5, 21.8, 2.9, 21.5, 2.9, 20.5, 2.5, 20.5],
  [1.5, 19, 2.2, 18, 1.5, 18.8, 0, 16.5],
  [-1.5, 18, -0.5, 16.5, -2.5, 18.5],
  [-7, 12.5, -5.5, 11.5, -4, 11.5, -3.5, 11, -5.5, 12, -6.5, 13.2, -7, 12.5],
  [-4.8, 13.8, -6.5, 13.8, -4.5, 13.2, -4.8, 13.8],
  [-2, 13.5, -2, 12, -3, 12, -3.5, 10.5, -4.8, 10, -4.7, 8.5, -5.5, 8, -5, 6, -6, 5.5, -8.8, 4.5, -6.5, 4.2, -5.5, 3.5, -4, 4.5, -3.5, 6.5, -3, 6.8],
  [-6, 0, -2, 0, -1.5, 1.5, 0, 1, 1.5, 1, 2.5, 0],
  [-2.5, 0, -2.8, 1.7, -1, 1.5],
  [-2, 7, 0, 5.5, 1, 4, 2, 2, 2.5, 3],
  [0.3, 12, 0.3, 13, 1.2, 12.8, 1.2, 11.8, 0.3, 12],
  [3.2, 11, 3.8, 11.3, 3.9, 10.3, 3.4, 10, 3.2, 11],
  [1.3, 10, 1.5, 9.8, 1.5, 10],
  [-2, 8.5, 0.5, 8, 1, 8.8],
  [10.8, 20.7, 11.8, 20.7, 12.2, 20, 11, 20.5],
  [8, 14.2, 9.5, 14.2, 10.2, 15.5, 9.5, 14],
  [5.2, 12.5, 6.2, 12.3, 6.2, 12.7, 5.2, 12.5],
  [8.5, 0, 8.7, 1.5, 9.2, 0.8, 9, 0],
  [1.8, 15, 2.7, 15, 3, 15.2],
  [0, 18, -0.3, 17.2],
  [-4.5, 44, -3, 44.5, -1, 46],
  [3, 31, 5, 30, 6.5, 30.5, 7.5, 31.5, 8, 30.5, 7, 29.8, 5.5, 29.5, 4, 30, 3.5, 29]
];

const caseLabels = ["(a) Case A1", "(b) Case A2", "(c) Case A3", "(d) Case A4", "(e) Case A2a"];

const svg = d3.select("#fig");
const defs = svg.append("defs");
defs.append("filter").attr("id", "soft").attr("x", "-5%").attr("y", "-5%").attr("width", "110%").attr("height", "110%")
    .append("feGaussianBlur").attr("stdDeviation", 0.8);

const omegaColor = d3.scaleLinear().domain(omegaStops).range(omegaColors).clamp(true);

// flat [x,y,x,y] list to pairs
const pairs = flat => d3.range(0, flat.length, 2).map(i => [flat[i], flat[i + 1]]);

const panels = [
  {label: caseLabels[0], left: 72.5, bottom: 339, xPx: [86, 418.7], xVal: [-4, 8], yPx: [325, 47.7], yVal: [0, 10], top: 6, right: 450.7,
   field: [-4, 5, 0, 9.8], bg: fieldA, streaks: streaksA, flame: flameA, xMajor: narrowXTicks, yMajor: narrowYTicks, xStep: 0.4, yStep: 0.5, width: 2.8, washBlur: 16,
   bar: [360.7, 92.3], omegaAt: [389, 72], xLabel: [256, 391], yLabel: [35, 175], caption: [231.7, 416]},
  {label: caseLabels[1], left: 533.7, bottom: 339, xPx: [658, 866.3], xVal: [0, 30], yPx: [331.7, 55], yVal: [0, 40], top: 6.7, right: 912,
   field: [-17.1, 20, 0, 41.2], bg: fieldB, streaks: streaksB, flame: flameB, xMajor: wideXTicks, yMajor: wideYTicks, xStep: 2, yStep: 2, width: 1.55, washBlur: 8,
   bar: [822.3, 92.3], omegaAt: [851, 72], xLabel: [718, 391], yLabel: [496, 175], caption: [693, 416]},
  {label: caseLabels[2], left: 72.5, bottom: 779.3, xPx: [197, 404.7], xVal: [0, 30], yPx: [772.3, 495.7], yVal: [0, 40], top: 447.3, right: 450.7,
   field: [-17.1, 15.8, 0, 41.2], bg: fieldC, streaks: streaksC, flame: flameC, xMajor: wideXTicks, yMajor: wideYTicks, xStep: 2, yStep: 2, width: 1.8, washBlur: 16,
   bar: [360.7, 532.3], omegaAt: [389, 512], xLabel: [256, 831], yLabel: [35, 621], caption: [232, 856]},
  {label: caseLabels[3], left: 533.7, bottom: 779.3, xPx: [547, 880], xVal: [-4, 8], yPx: [765, 488.3], yVal: [0, 10], top: 446, right: 912,
   field: [-4, 5, 0, 9.85], bg: fieldD, streaks: streaksD, flame: flameD, xMajor: narrowXTicks, yMajor: narrowYTicks, xStep: 0.4, yStep: 0.5, width: 2.2, washBlur: 16,
   bar: [822.3, 532.3], omegaAt: [851, 512], xLabel: [718, 831], yLabel: [496, 621], caption: [693, 856]},
  {label: caseLabels[4], left: 303, bottom: 1219.3, xPx: [427.3, 635.3], xVal: [0, 30], yPx: [1212.3, 935.3], yVal: [0, 40], top: 888, right: 681,
   field: [-17, 20.1, 0, 46], bg: fieldE, streaks: streaksE, flame: flameE, xMajor: wideXTicks, yMajor: wideYTicks, xStep: 2, yStep: 2, width: 1.35, washBlur: 7,
   bar: [591.7, 972.7], omegaAt: [620, 952], xLabel: [486, 1271], yLabel: [265, 1061], caption: [463, 1296]}
];

const barW = 38, barH = 152;
const lineGen = d3.line().curve(d3.curveCatmullRom.alpha(0.5));
const closedGen = d3.line();
// halo around a streak: fraction of its value against width factor
const haloLevels = [[0.34, 3.6], [0.52, 2.8], [0.72, 2.0], [0.88, 1.4], [1, 0.85]];

// centre line of a streak sampled along its length, with unit normals
const probe = svg.append("path").attr("fill", "none").attr("visibility", "hidden");
function sampleLine(pts) {
  probe.attr("d", lineGen(pts));
  const node = probe.node(), len = node.getTotalLength();
  const n = Math.max(6, Math.round(len / 3));
  const s = d3.range(n + 1).map(i => node.getPointAtLength(len * i / n));
  return s.map((q, i) => {
    const a = s[Math.max(i - 1, 0)], b = s[Math.min(i + 1, n)];
    const dx = b.x - a.x, dy = b.y - a.y, m = Math.hypot(dx, dy) || 1;
    return {x: q.x, y: q.y, nx: -dy / m, ny: dx / m, t: i / n};
  });
}
// filament shape: thick in the middle, thinning to both ends
function filament(samples, w) {
  const half = q => 0.5 * w * (0.22 + 0.78 * Math.pow(Math.sin(Math.PI * q.t), 0.7));
  const up = samples.map(q => [q.x + q.nx * half(q), q.y + q.ny * half(q)]);
  const down = samples.map(q => [q.x - q.nx * half(q), q.y - q.ny * half(q)]).reverse();
  return closedGen(up.concat(down)) + "Z";
}

panels.forEach((p, idx) => {
  const g = svg.append("g").attr("class", "panel");
  const xRaw = d3.scaleLinear().domain(p.xVal).range(p.xPx);
  const yRaw = d3.scaleLinear().domain(p.yVal).range(p.yPx);
  const x = d3.scaleLinear().domain([xRaw.invert(p.left), xRaw.invert(p.right)]).range([p.left, p.right]);
  const y = d3.scaleLinear().domain([yRaw.invert(p.bottom), yRaw.invert(p.top)]).range([p.bottom, p.top]);
  const [x0, x1, y0, y1] = p.field;

  const clipId = "clip" + idx;
  defs.append("clipPath").attr("id", clipId).append("rect")
      .attr("x", x(x0)).attr("y", y(y1)).attr("width", x(x1) - x(x0)).attr("height", y(y0) - y(y1));
  defs.append("filter").attr("id", "wash" + idx).attr("x", "-5%").attr("y", "-5%").attr("width", "110%").attr("height", "110%")
      .append("feGaussianBlur").attr("stdDeviation", p.washBlur);
  const fieldG = g.append("g").attr("clip-path", `url(#${clipId})`);

  // large scale wash
  fieldG.append("rect").attr("x", x(x0)).attr("y", y(y1)).attr("width", x(x1) - x(x0)).attr("height", y(y0) - y(y1))
        .attr("fill", omegaColor(d3.mean(p.bg.flat())));
  const cols = d3.scaleBand().domain(d3.range(p.bg[0].length)).range([x(x0) - 20, x(x1) + 20]);
  const rows = d3.scaleBand().domain(d3.range(p.bg.length)).range([y(y1) - 20, y(y0) + 20]);
  const wash = fieldG.append("g").attr("filter", `url(#wash${idx})`);
  p.bg.forEach((row, r) => {
    wash.selectAll(null).data(row).join("rect")
        .attr("x", (d, c) => cols(c)).attr("y", rows(r))
        .attr("width", cols.bandwidth() + 1).attr("height", rows.bandwidth() + 1)
        .attr("fill", d => omegaColor(d));
  });

  // streaks, drawn in halo order so the hot cores stay on top
  const streaks = p.streaks.slice().sort((a, b) => a[0] - b[0])
      .map(s => ({v: s[0], line: sampleLine(pairs(s.slice(1)).map(([a, b]) => [x(a), y(b)]))}));
  const soft = fieldG.append("g").attr("filter", "url(#soft)");
  haloLevels.forEach(([frac, grow]) => {
    soft.append("g").selectAll("path").data(streaks).join("path")
        .attr("d", s => filament(s.line, p.width * grow * (0.6 + s.v / 22)))
        .attr("fill", s => omegaColor(s.v * frac))
        .attr("stroke", s => omegaColor(s.v * frac)).attr("stroke-width", 0.5).attr("stroke-linejoin", "round");
  });

  // flame front
  fieldG.append("g").attr("fill", "none").attr("stroke", "#0a0a0a").attr("stroke-width", 1.4).attr("stroke-linejoin", "round")
        .selectAll("path").data(p.flame).join("path")
        .attr("d", f => lineGen(pairs(f).map(([a, b]) => [x(a), y(b)])));

  // axes
  const styleAxis = sel => {
    sel.selectAll("path, line").attr("stroke", "#333");
    sel.select(".domain").attr("stroke-width", 1.6);
    sel.selectAll(".tick line").attr("stroke-width", 1.1);
    sel.selectAll("text").attr("font-family", "Liberation Serif").attr("font-size", 23.5).attr("fill", "#1a1a1a");
  };
  const xMinor = d3.range(Math.ceil(x.domain()[0] / p.xStep), Math.floor(x.domain()[1] / p.xStep) + 1).map(i => +(i * p.xStep).toFixed(2));
  const yMinor = d3.range(Math.ceil(y.domain()[0] / p.yStep), Math.floor(y.domain()[1] / p.yStep) + 1).map(i => +(i * p.yStep).toFixed(2));
  g.append("g").attr("transform", `translate(0,${p.bottom})`)
      .call(d3.axisBottom(x).tickValues(xMinor).tickSizeInner(-4).tickSizeOuter(0).tickFormat("")).call(styleAxis);
  g.append("g").attr("transform", `translate(0,${p.bottom})`)
      .call(d3.axisBottom(x).tickValues(p.xMajor).tickSizeInner(-8).tickSizeOuter(0).tickPadding(5).tickFormat(d3.format("d"))).call(styleAxis)
      .selectAll("text").text(d => String(d));
  g.append("g").attr("transform", `translate(${p.left},0)`)
      .call(d3.axisLeft(y).tickValues(yMinor).tickSizeInner(-4).tickSizeOuter(0).tickFormat("")).call(styleAxis);
  g.append("g").attr("transform", `translate(${p.left},0)`)
      .call(d3.axisLeft(y).tickValues(p.yMajor).tickSizeInner(-8).tickSizeOuter(0).tickPadding(5).tickFormat(d3.format("d"))).call(styleAxis);

  // axis titles
  g.append("text").attr("x", p.xLabel[0]).attr("y", p.xLabel[1]).attr("text-anchor", "middle")
      .attr("font-size", 30).attr("font-style", "italic").text("x");
  g.append("text").attr("x", p.xLabel[0] + 12).attr("y", p.xLabel[1] - 11).attr("text-anchor", "middle")
      .attr("font-size", 17).text("*");
  g.append("text").attr("transform", `translate(${p.yLabel[0]},${p.yLabel[1]}) rotate(-90)`).attr("text-anchor", "middle")
      .attr("font-size", 30).attr("font-style", "italic").text("y");
  g.append("text").attr("transform", `translate(${p.yLabel[0] - 15},${p.yLabel[1] - 9}) rotate(-90)`).attr("text-anchor", "middle")
      .attr("font-size", 17).text("*");

  // colour bar
  const [bx, by] = p.bar;
  const barScale = d3.scaleLinear().domain([0, 30]).range([by + barH, by]);
  const barG = g.append("g");
  barG.selectAll("rect").data(d3.range(0, 30, 0.25)).join("rect")
      .attr("x", bx).attr("width", barW)
      .attr("y", v => barScale(v + 0.25)).attr("height", v => barScale(v) - barScale(v + 0.25) + 0.6)
      .attr("fill", v => omegaColor(v + 0.125));
  barG.append("rect").attr("x", bx).attr("y", by).attr("width", barW).attr("height", barH)
      .attr("fill", "none").attr("stroke", "#c9c4c4").attr("stroke-width", 0.8);
  const barAxis = g.append("g").attr("transform", `translate(${bx + barW + 19},2.5)`)
      .call(d3.axisRight(barScale).tickValues(omegaTicks).tickSize(0).tickPadding(0).tickFormat(d3.format("d")));
  barAxis.select(".domain").remove();
  barAxis.selectAll("text").attr("font-family", "Liberation Serif").attr("font-size", 25).attr("fill", "#1a1a1a");

  g.append("text").attr("x", p.omegaAt[0]).attr("y", p.omegaAt[1]).attr("text-anchor", "middle")
      .attr("font-size", 29).attr("font-style", "italic").text("\u03c9");
  g.append("text").attr("x", p.omegaAt[0] + 15).attr("y", p.omegaAt[1] - 9).attr("text-anchor", "middle")
      .attr("font-size", 17).text("*");

  g.append("text").attr("x", p.caption[0]).attr("y", p.caption[1]).attr("text-anchor", "middle")
      .attr("font-size", 14).attr("letter-spacing", 1.5).text(p.label);
});
probe.remove();
</script>
</body>
</html>
